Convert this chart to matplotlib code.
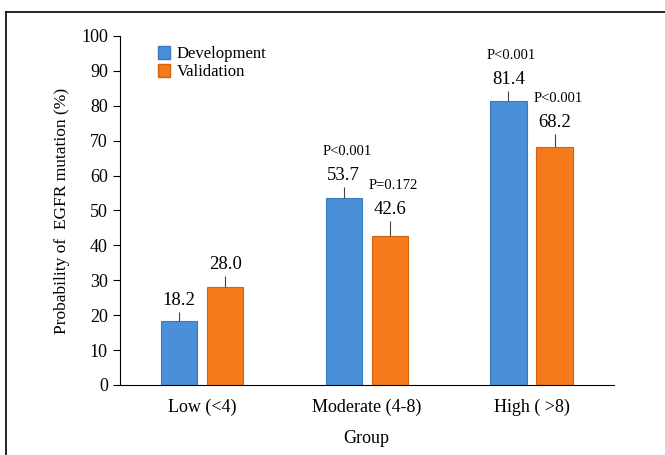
#!/usr/bin/env python3
"""
Grouped bar chart: probability of EGFR mutation by group
"""

import numpy as np
import matplotlib
matplotlib.use('Agg')
import matplotlib.pyplot as plt
from matplotlib.patches import Patch
from matplotlib.lines import Line2D

groups = ['Low (<4)', 'Moderate (4-8)', 'High ( >8)']
dev = [18.2, 53.7, 81.4]
val = [28.0, 42.6, 68.2]
dev_err = [2.8, 3.0, 2.8]
val_err = [3.2, 4.4, 3.8]
dev_p = ['', 'P<0.001', 'P<0.001']
val_p = ['', 'P=0.172', 'P<0.001']

blue = '#4a90d9'
orange = '#f57a1c'

plt.rcParams['font.family'] = ['Liberation Serif', 'DejaVu Serif']

fig = plt.figure(figsize=(6.65, 4.55), dpi=100)
ax = fig.add_axes([0.180, 0.154, 0.743, 0.767])

x = np.arange(len(groups))
w = 0.22
off = 0.14

ax.bar(x - off, dev, w, color=blue, edgecolor='#3a78c0', linewidth=0.8)
ax.bar(x + off, val, w, color=orange, edgecolor='#d8600a', linewidth=0.8)

# upward whiskers only
ax.vlines(x - off, dev, np.array(dev) + np.array(dev_err), color='#444444', lw=0.8)
ax.vlines(x + off, val, np.array(val) + np.array(val_err), color='#444444', lw=0.8)

for xs, ys, es, ps in [(x - off, dev, dev_err, dev_p), (x + off, val, val_err, val_p)]:
    for xi, yi, ei, pi in zip(xs, ys, es, ps):
        ax.text(xi, yi + ei + 0.8, f'{yi:.1f}', ha='center', va='bottom', fontsize=13.5)
        if pi:
            ax.text(xi + 0.02, yi + ei + 8.2, pi, ha='center', va='bottom', fontsize=10.5)

ax.set_xlim(-0.5, 2.5)
ax.set_ylim(0, 100)
ax.set_yticks(range(0, 101, 10))
ax.set_xticks(x)
ax.set_xticklabels(groups, fontsize=13)
ax.tick_params(axis='x', length=0, pad=10)
ax.tick_params(axis='y', labelsize=13, length=5, direction='out')
ax.spines['top'].set_visible(False)
ax.spines['right'].set_visible(False)
ax.set_xlabel('Group', fontsize=13, labelpad=10)
ax.set_ylabel('Probability of  EGFR mutation (%)', fontsize=12.5, labelpad=8)

handles = [Patch(facecolor=blue, edgecolor='#3a78c0'), Patch(facecolor=orange, edgecolor='#d8600a')]
ax.legend(handles, ['Development', 'Validation'], loc='upper left', bbox_to_anchor=(0.065, 0.99),
          frameon=False, fontsize=12, handlelength=0.7, handleheight=0.8,
          handletextpad=0.4, labelspacing=0.1, borderaxespad=0)

# outer frame (top and left edges visible)
fig.add_artist(Line2D([6 / 665, 1], [1 - 12 / 455, 1 - 12 / 455], color='black', lw=1.2))
fig.add_artist(Line2D([6 / 665, 6 / 665], [0, 1 - 12 / 455], color='black', lw=1.2))

fig.savefig('out.png', dpi=100)
